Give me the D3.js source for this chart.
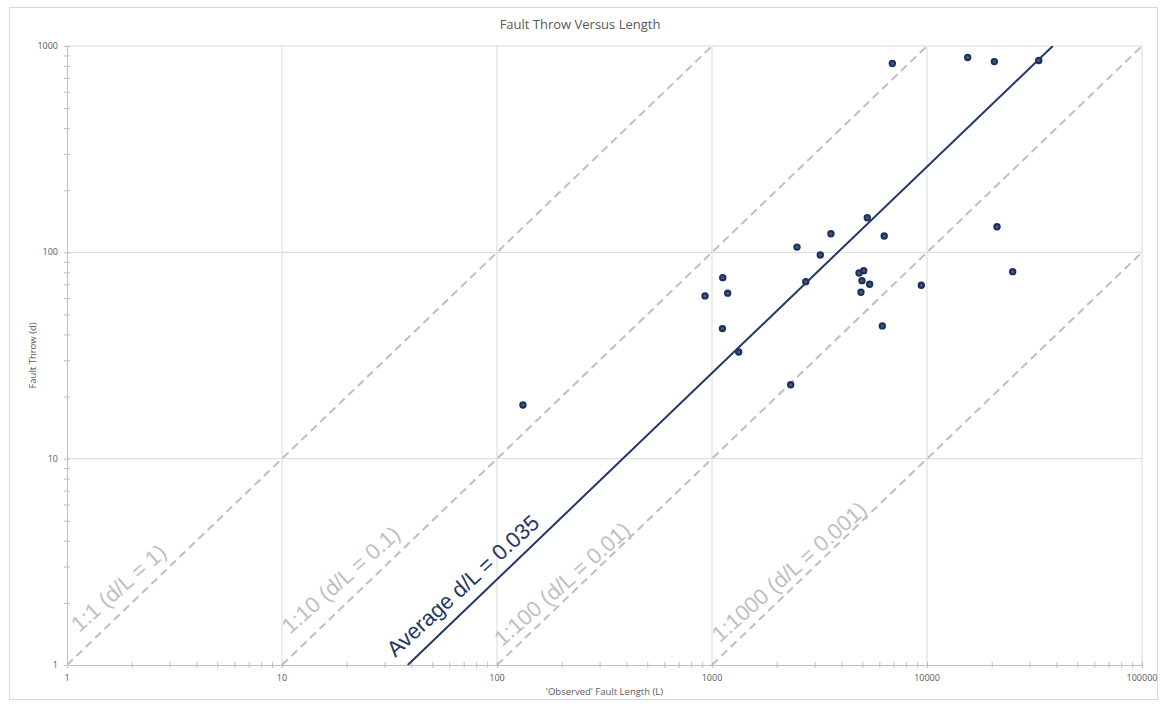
<!DOCTYPE html>
<html>
<head>
<meta charset="utf-8">
<script src="https://cdn.jsdelivr.net/npm/d3@7"></script>
<style>
  body { margin: 0; background: #fff; }
  svg { display: block; font-family: "Open Sans", "Liberation Sans", sans-serif; }
</style>
</head>
<body>
<div id="chart"></div>
<script>
// observed fault length (L) and throw (d)
const faultLength = [132, 928, 1122, 1183, 1118, 1331, 2323, 2485, 2730, 3190, 3574,
  5276, 6325, 4830, 5078, 4985, 5410, 4930, 6196, 9410, 21170, 25040,
  6900, 15460, 20570, 33100];
const faultThrow = [18.2, 61.5, 75.4, 63.4, 42.7, 32.9, 22.8, 106, 72.1, 97.1, 123,
  147, 120, 79.4, 81.5, 72.9, 70.0, 64.1, 44.0, 69.2, 133, 80.6,
  822, 879, 840, 850];

const xTicks = [1, 10, 100, 1000, 10000, 100000];
const yTicks = [1, 10, 100, 1000];

// reference d/L lines
const ratios = [1, 0.1, 0.01, 0.001];
const ratioLabels = ["1:1 (d/L = 1)", "1:10 (d/L = 0.1)", "1:100 (d/L = 0.01)", "1:1000 (d/L = 0.001)"];
const ratioLabelL = [1.14, 10.9, 105.7, 1090];
const ratioLabelD = [1.43, 1.40, 1.22, 1.28];

// fitted line as drawn
const avgCoef = 0.026;
const avgLabel = "Average d/L = 0.035";
const avgLabelAt = [33.6, 1.08];

const width = 1161,
  height = 707,
  margin = { top: 46, right: 19, bottom: 42, left: 67 };

const svg = d3.select("#chart").append("svg").attr("width", width).attr("height", height);

svg.append("rect")
  .attr("x", 9.5).attr("y", 7.5)
  .attr("width", 1148).attr("height", 692)
  .attr("fill", "#fff").attr("stroke", "#d9d9d9");

const xScale = d3.scaleLog().domain([1, 100000]).range([margin.left, width - margin.right]);
const yScale = d3.scaleLog().domain([1, 1000]).range([height - margin.bottom, margin.top]);

svg.append("defs").append("clipPath").attr("id", "plot")
  .append("rect")
  .attr("x", margin.left).attr("y", margin.top)
  .attr("width", width - margin.left - margin.right)
  .attr("height", height - margin.top - margin.bottom);

// gridlines
svg.append("g").selectAll("line").data(xTicks.slice(1)).join("line")
  .attr("x1", (d) => xScale(d)).attr("x2", (d) => xScale(d))
  .attr("y1", margin.top).attr("y2", height - margin.bottom)
  .attr("stroke", "#d9d9d9");
svg.append("g").selectAll("line").data(yTicks.slice(1)).join("line")
  .attr("y1", (d) => yScale(d)).attr("y2", (d) => yScale(d))
  .attr("x1", margin.left).attr("x2", width - margin.right)
  .attr("stroke", "#d9d9d9");

// axes with minor log ticks
const xMinor = d3.range(0, 5).flatMap((e) => d3.range(1, 10).map((m) => m * 10 ** e)).concat([100000]);
const yMinor = d3.range(0, 3).flatMap((e) => d3.range(1, 10).map((m) => m * 10 ** e)).concat([1000]);

const xAxis = svg.append("g").attr("transform", `translate(0, ${height - margin.bottom})`)
  .call(d3.axisBottom(xScale).tickValues(xMinor).tickSizeInner(3).tickSizeOuter(0).tickFormat(""));
xAxis.selectAll(".tick line").attr("y1", -3);
const yAxis = svg.append("g").attr("transform", `translate(${margin.left}, 0)`)
  .call(d3.axisLeft(yScale).tickValues(yMinor).tickSizeInner(3).tickSizeOuter(0).tickFormat(""));
yAxis.selectAll(".tick line").attr("x1", 3);
svg.selectAll(".domain, .tick line").attr("stroke", "#bfbfbf");

svg.append("g").selectAll("text").data(xTicks).join("text")
  .attr("x", (d) => xScale(d)).attr("y", height - margin.bottom + 16)
  .attr("text-anchor", "middle").attr("font-size", 9).attr("fill", "#595959")
  .text((d) => d);
svg.append("g").selectAll("text").data(yTicks).join("text")
  .attr("x", margin.left - 9).attr("y", (d) => yScale(d) + 3)
  .attr("text-anchor", "end").attr("font-size", 9).attr("fill", "#595959")
  .text((d) => d);

// title + axis titles
svg.append("text").attr("x", 580).attr("y", 29).attr("text-anchor", "middle")
  .attr("font-size", 13).attr("fill", "#595959").text("Fault Throw Versus Length");
svg.append("text").attr("x", (margin.left + width - margin.right) / 2).attr("y", 695)
  .attr("text-anchor", "middle").attr("font-size", 9.5).attr("fill", "#595959")
  .text("'Observed' Fault Length (L)");
svg.append("text")
  .attr("transform", `translate(36, ${(margin.top + height - margin.bottom) / 2}) rotate(-90)`)
  .attr("text-anchor", "middle").attr("font-size", 9.5).attr("fill", "#595959")
  .text("Fault Throw (d)");

const clip = svg.append("g").attr("clip-path", "url(#plot)");

// reference lines
clip.append("g").selectAll("line").data(ratios).join("line")
  .attr("x1", (r) => xScale(1 / r)).attr("y1", yScale(1))
  .attr("x2", (r) => xScale(Math.min(100000, 1000 / r)))
  .attr("y2", (r) => yScale(r * Math.min(100000, 1000 / r)))
  .attr("stroke", "#bfbfbf").attr("stroke-width", 2).attr("stroke-dasharray", "8,5");

// average line
clip.append("line")
  .attr("x1", xScale(1 / avgCoef)).attr("y1", yScale(1))
  .attr("x2", xScale(1000 / avgCoef)).attr("y2", yScale(1000))
  .attr("stroke", "#1f3864").attr("stroke-width", 2);

const labelAngle = -41.5;
svg.append("g").selectAll("text").data(ratios).join("text")
  .attr("transform", (r, i) => `translate(${xScale(ratioLabelL[i])}, ${yScale(ratioLabelD[i])}) rotate(${labelAngle})`)
  .attr("font-family", "Liberation Sans, Arial, sans-serif")
  .attr("font-size", 22).attr("fill", "#c0c0c0")
  .text((r, i) => ratioLabels[i]);

svg.append("text")
  .attr("transform", `translate(${xScale(avgLabelAt[0])}, ${yScale(avgLabelAt[1])}) rotate(-42.5)`)
  .attr("font-family", "Liberation Sans, Arial, sans-serif")
  .attr("font-size", 22).attr("fill", "#1f3864")
  .text(avgLabel);

// points
svg.append("g").selectAll("circle").data(faultLength).join("circle")
  .attr("cx", (d) => xScale(d))
  .attr("cy", (d, i) => yScale(faultThrow[i]))
  .attr("r", 2.6)
  .attr("fill", "#5f5e4c")
  .attr("stroke", "#1a3068")
  .attr("stroke-width", 2.2);
</script>
</body>
</html>
